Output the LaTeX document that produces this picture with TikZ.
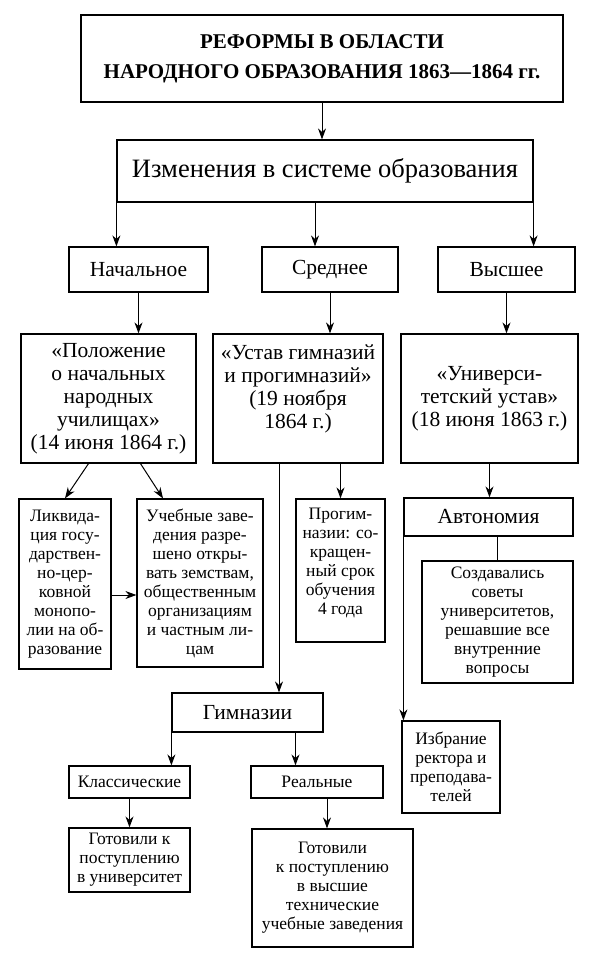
\documentclass[tikz,border=0pt]{standalone}
\usepackage{fontspec}
\setmainfont{Liberation Serif}
\usetikzlibrary{arrows.meta}

\begin{document}
\begin{tikzpicture}[x=1pt, y=-1pt, line width=1pt, >={Stealth[length=11pt, width=8pt]},
	box/.style={draw, line width=1.2pt, align=center, inner sep=0pt},
	large/.style={box, font=\fontsize{21.5}{23}\selectfont},
	small/.style={box, font=\fontsize{17.5}{19}\selectfont}]
	\useasboundingbox (0,0) rectangle (599,964);
	% top of the scheme
	\node[box, font=\bfseries\fontsize{21}{30}\selectfont, minimum width=482pt, minimum height=87pt] (title) at (322,58.5) {РЕФОРМЫ В ОБЛАСТИ\\НАРОДНОГО ОБРАЗОВАНИЯ 1863—1864 гг.};
	\node[box, font=\fontsize{26.5}{30}\selectfont, minimum width=416pt, minimum height=62pt] (izm) at (325,171) {Изменения в системе образования};
	\node[large, minimum width=139pt, minimum height=45pt] (nach) at (138.5,269.5) {Начальное};
	\node[large, minimum width=136pt, minimum height=45pt] (sred) at (330,269.5) {Среднее};
	\node[large, minimum width=137pt, minimum height=45pt] (vys) at (506.5,269.5) {Высшее};
	% documents
	\node[large, minimum width=175pt, minimum height=129pt] (polozh) at (108.5,398.5) {«Положение\\о начальных\\народных\\училищах»\\(14 июня 1864 г.)};
	\node[large, minimum width=170pt, minimum height=129pt] (ustav) at (298,398.5) {«Устав гимназий\\и прогимназий»\\(19 ноября\\1864 г.)\\~};
	\node[large, minimum width=177pt, minimum height=129pt] (univ) at (489.5,398.5) {«Универси-\\тетский устав»\\(18 июня 1863 г.)};
	% lower boxes
	\node[small, minimum width=92pt, minimum height=170pt] (likv) at (65,584) {Ликвида-\\ция госу-\\дарствен-\\но-цер-\\ковной\\монопо-\\лии на об-\\разование};
	\node[small, minimum width=126pt, minimum height=168pt] (ucheb) at (200,583) {Учебные заве-\\дения разре-\\шено откры-\\вать земствам,\\общественным\\организациям\\и частным ли-\\цам};
	\node[small, minimum width=89pt, minimum height=143pt] (progim) at (340.5,570.5) {Прогим-\\назии: со-\\кращен-\\ный срок\\обучения\\4 года\\~};
	\node[large, minimum width=169pt, minimum height=38pt] (avt) at (488.5,517) {Автономия};
	\node[small, minimum width=151pt, minimum height=122pt] (sovet) at (497.5,622) {Создавались\\советы\\университетов,\\решавшие все\\внутренние\\вопросы};
	\node[small, minimum width=98pt, minimum height=92pt] (izbr) at (451,767) {Избрание\\ректора и\\преподава-\\телей};
	\node[large, minimum width=151pt, minimum height=39pt] (gimn) at (247.5,712.5) {Гимназии};
	\node[small, minimum width=121pt, minimum height=32pt] (klass) at (129.5,782) {Классические};
	\node[small, minimum width=132pt, minimum height=32pt] (real) at (317,782) {Реальные};
	\node[small, minimum width=121pt, minimum height=64pt] (gotov1) at (129.5,860) {Готовили к\\поступлению\\в университет};
	\node[small, minimum width=161pt, minimum height=118pt] (gotov2) at (332.5,888) {Готовили\\к поступлению\\в высшие\\технические\\учебные заведения};
	% connectors
	\draw[->] (title.south) -- (title.south |- izm.north);
	\draw[->] (izm.south west) -- (izm.south west |- nach.north);
	\draw[->] ([xshift=-10pt]izm.south) -- ([xshift=-10pt]izm.south |- sred.north);
	\draw[->] (izm.south east) -- (izm.south east |- vys.north);
	\draw[->] (nach.south) -- (nach.south |- polozh.north);
	\draw[->] (sred.south) -- (sred.south |- ustav.north);
	\draw[->] (vys.south) -- (vys.south |- univ.north);
	\draw[->] ([xshift=-20pt]polozh.south) -- (likv.north);
	\draw[->] ([xshift=32pt]polozh.south) -- ([xshift=-37pt]ucheb.north);
	\draw[->] ([yshift=-11pt]likv.east) -- ([yshift=-11pt]likv.east -| ucheb.west);
	\draw[->] ([xshift=-19pt]ustav.south) coordinate (u1) -- (u1 |- gimn.north);
	\draw[->] (progim.north |- ustav.south) -- (progim.north);
	\draw[->] (univ.south) -- (univ.south |- avt.north);
	\draw (sovet.north |- avt.south) -- (sovet.north);
	\draw[->] (avt.south west) -- (avt.south west |- izbr.north);
	\draw[->] (gimn.south west) -- (gimn.south west |- klass.north);
	\draw[->] ([xshift=48pt]gimn.south) coordinate (g1) -- (g1 |- real.north);
	\draw[->] (klass.south) -- (klass.south |- gotov1.north);
	\draw[->] ([xshift=10pt]real.south) coordinate (r1) -- (r1 |- gotov2.north);
\end{tikzpicture}
\end{document}
